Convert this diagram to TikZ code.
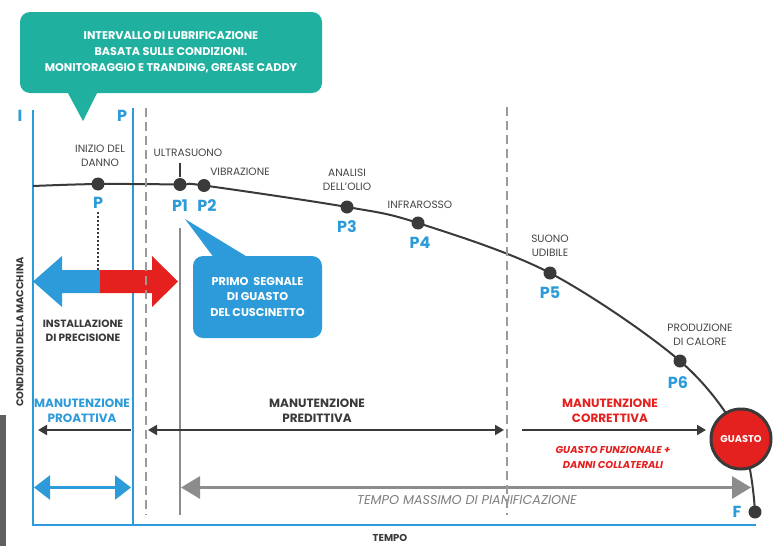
\documentclass[tikz,border=0pt]{standalone}
\usepackage{fontspec}
\setmainfont{Poppins}
\usetikzlibrary{arrows.meta}
\definecolor{teal1}{HTML}{1FB0A0}
\definecolor{blue1}{HTML}{2D9BD9}
\definecolor{red1}{HTML}{E5211F}
\definecolor{dark1}{HTML}{3A3A3A}
\definecolor{txt1}{HTML}{454545}
\definecolor{gray1}{HTML}{8C8C8C}
\definecolor{dash1}{HTML}{9A9A9A}
\tikzset{
  lbl/.style={font=\fontsize{10.6}{14}\selectfont, text=txt1, align=center, inner sep=0},
  plbl/.style={font=\fontsize{16}{16}\selectfont\bfseries, text=blue1, inner sep=0},
  dot/.style={circle, fill=dark1, inner sep=0, minimum size=13pt},
  bline/.style={draw=blue1, line width=2pt},
  dline/.style={draw=dash1, line width=1.6pt, dash pattern=on 9pt off 5pt},
  mlbl/.style={font=\fontsize{12}{15}\selectfont\bfseries, align=center, inner sep=0},
  sarrow/.style={draw=dark1, line width=2pt, -{Triangle[length=9pt,width=10pt]}},
}
\begin{document}
\begin{tikzpicture}[x=1pt,y=-1pt]
\useasboundingbox (0,0) rectangle (779,546);
\fill[white] (0,0) rectangle (779,546);

% left gray bar
\fill[gray!75!black] (0,415) rectangle (6,546);

% teal callout
\node[fill=teal1, rounded corners=10pt, minimum width=302pt, minimum height=81pt, text=white,
      font=\fontsize{11.2}{16}\selectfont\bfseries, align=center, inner sep=0] (teal) at (171,52.5)
  {INTERVALLO DI LUBRIFICAZIONE\\BASATA SULLE CONDIZIONI.\\MONITORAGGIO E TRANDING, GREASE CADDY};
\coordinate (tealtip) at (83,121);
\fill[teal1] ([xshift=-103pt]teal.south) -- (tealtip) -- ([xshift=-74pt]teal.south) -- cycle;

% axes / vertical lines
\coordinate (ax0) at (33,110);
\coordinate (ax1) at (33,525);
\coordinate (ax2) at (133,108);
\coordinate (ax3) at (133,525);
\coordinate (axend) at (756,525);
\draw[bline] (ax0) -- (ax1) -- (axend);
\draw[bline] (ax2) -- (ax3);
\node[plbl] (lI) at (20,116) {I};
\node[plbl] (lP0) at (122,116) {P};

\coordinate (d1a) at (146,108);
\coordinate (d1b) at (146,515);
\coordinate (d2a) at (507,107);
\coordinate (d2b) at (507,515);

\coordinate (gva) at (180,228);
\coordinate (gvb) at (180,515);
\draw[gray1, line width=2pt] (gva) -- (gvb);

% curve
\coordinate (c0) at (33,186);
\coordinate (pP) at (98,184);
\coordinate (p1) at (180,184.5);
\coordinate (p2) at (204,185.5);
\coordinate (p3) at (347,207);
\coordinate (p4) at (418,223);
\coordinate (p5) at (550,273);
\coordinate (p6) at (680,361);
\coordinate (pg) at (741,439);
\coordinate (pF) at (755,512);
\draw[dark1, line width=2pt] plot[smooth, tension=0.55] coordinates {(c0) (pP) (p1) (p2) (p3) (p4) (p5) (p6) (pg) (pF)};

\foreach \p in {pP,p1,p2,p3,p4,p5,p6,pF} \node[dot] (n\p) at (\p) {};

% labels on curve
\node[lbl] (tInizio) at (100,156) {INIZIO DEL\\DANNO};
\node[lbl] (tUltra) at (188,153) {ULTRASUONO};
\coordinate (tk1) at (180,163);
\coordinate (tk2) at (180,177);
\draw[dark1, line width=1.2pt] (tk1) -- (tk2);
\node[lbl] (tVibr) at (240,172) {VIBRAZIONE};
\node[lbl] (tAnal) at (347,180) {ANALISI\\DELL'OLIO};
\node[lbl] (tInfra) at (420,205) {INFRAROSSO};
\node[lbl] (tSuono) at (550,246) {SUONO\\UDIBILE};
\node[lbl] (tProd) at (700,335) {PRODUZIONE\\DI CALORE};

\node[plbl] (lP) at (98,203) {P};
\node[plbl] (lP1) at (180,206) {P1};
\node[plbl] (lP2) at (207,206) {P2};
\node[plbl] (lP3) at (347,227) {P3};
\node[plbl] (lP4) at (420,243) {P4};
\node[plbl] (lP5) at (550,293) {P5};
\node[plbl] (lP6) at (678,383) {P6};
\node[plbl] (lF) at (737,512) {F};

% dotted line
\coordinate (dotend) at (98,270);
\draw[dark1, line width=1.2pt, dash pattern=on 2pt off 2pt] (lP.south) ++(0,3) -- (dotend);

% block arrows
\fill[blue1] (100,270) -- (62,270) -- (62,256) -- (33,281.5) -- (62,307) -- (62,293) -- (100,293) -- cycle;
\fill[red1] (100,270) -- (152,270) -- (152,256) -- (178,281.5) -- (152,307) -- (152,293) -- (100,293) -- cycle;

\node[mlbl, text=dark1, font=\fontsize{10.5}{14.5}\selectfont\bfseries] (tInst) at (83,331) {INSTALLAZIONE\\DI PRECISIONE};

% blue callout
\node[fill=blue1, rounded corners=10pt, minimum width=129pt, minimum height=82pt, text=white,
      font=\fontsize{11.3}{15.5}\selectfont\bfseries, align=center, inner sep=0] (bcall) at (257.5,297)
  {PRIMO\ \ SEGNALE\\DI GUASTO\\DEL CUSCINETTO};
\coordinate (btip) at (185,219);
\fill[blue1] ([xshift=-45pt]bcall.north) -- (btip) -- ([xshift=-12pt]bcall.north) -- cycle;

% vertical text
\node[rotate=90, font=\fontsize{9.9}{8}\selectfont\bfseries, text=dark1, inner sep=0] (tCond) at (20,332) {CONDIZIONI DELLA MACCHINA};

% maintenance labels and arrows
\node[mlbl, text=blue1] (tPro) at (82,410.5) {MANUTENZIONE\\PROATTIVA};
\node[mlbl, text=dark1] (tPred) at (317,410.5) {MANUTENZIONE\\PREDITTIVA};
\node[mlbl, text=red1] (tCorr) at (610,410.5) {MANUTENZIONE\\CORRETTIVA};
\node[font=\fontsize{10}{15}\selectfont\bfseries\itshape, text=red1, align=center, inner sep=0] (tGF) at (613,457.5) {GUASTO FUNZIONALE +\\DANNI COLLATERALI};

\coordinate (a1a) at (131,430);
\coordinate (a1b) at (38,430);
\draw[sarrow] (a1a) -- (a1b);
\coordinate (a2a) at (148,430);
\coordinate (a2b) at (504,430);
\draw[sarrow, {Triangle[length=9pt,width=10pt]}-{Triangle[length=9pt,width=10pt]}] (a2a) -- (a2b);
\coordinate (a3a) at (522,430);
\coordinate (a3b) at (706,430);
\draw[sarrow] (a3a) -- (a3b);

\coordinate (b1a) at (34,487.5);
\coordinate (b1b) at (131,487.5);
\draw[blue1, line width=2.5pt, {Triangle[length=16pt,width=24pt]}-{Triangle[length=16pt,width=24pt]}] (b1a) -- (b1b);

\coordinate (g1a) at (181,487.5);
\coordinate (g1b) at (751,487.5);
\draw[gray1, line width=3pt, {Triangle[length=19pt,width=22pt]}-{Triangle[length=19pt,width=22pt]}] (g1a) -- (g1b);
\node[font=\fontsize{12.8}{13}\selectfont\itshape, text=gray1!90!black, inner sep=0] (tTempoMax) at (467,500) {TEMPO MASSIMO DI PIANIFICAZIONE};

% dashed lines on top
\draw[dline] (d1a) -- (d1b);
\draw[dline] (d2a) -- (d2b);

% GUASTO circle
\node[circle, fill=red1, draw=dark1, line width=3pt, minimum size=60pt, inner sep=0, text=white,
      font=\fontsize{9.8}{10}\selectfont\bfseries] (guasto) at (pg) {GUASTO};

\node[font=\fontsize{10}{10}\selectfont\bfseries, text=dark1, inner sep=0] (tTempo) at (390,538) {TEMPO};
\end{tikzpicture}
\end{document}
